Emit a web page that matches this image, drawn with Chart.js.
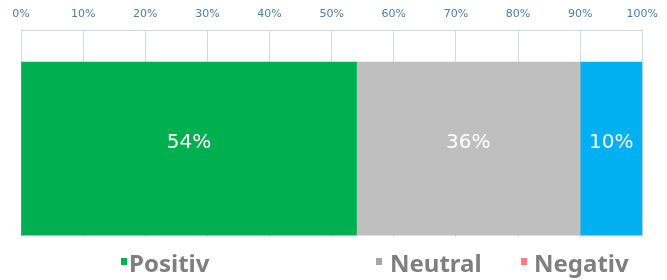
<!DOCTYPE html>
<html>
<head>
<meta charset="utf-8">
<script src="https://cdn.jsdelivr.net/npm/chart.js@4/dist/chart.umd.min.js"></script>
<style>
  html, body { margin: 0; padding: 0; background: #fff; }
  #wrap { width: 667px; height: 280px; position: relative; }
  #legend { position: absolute; left: 0; top: 249px; width: 667px; height: 31px; }
  #legend .item { position: absolute; top: 0; display: flex; align-items: flex-start; white-space: nowrap; }
  #legend .box { width: 6px; height: 7px; margin-top: 9px; }
  #legend .txt {
    font-family: "Liberation Sans Narrow", "Noto Sans", sans-serif;
    font-weight: bold; font-size: 24px; line-height: 28px; color: #7f7f7f;
  }
</style>
</head>
<body>
<div id="wrap"><canvas id="sentimentChart"></canvas><div id="legend"></div></div>
<script>
// Werte aus dem Bild
const categories = ['Positiv', 'Neutral', 'Negativ'];
const shares = [54, 36, 10];
const barColors = ['#00b050', '#bfbfbf', '#00b0f0'];
const legendColors = ['#00b050', '#a6a6a6', '#ff7c80'];
const xTicks = [0, 10, 20, 30, 40, 50, 60, 70, 80, 90, 100];

// Legendenlayout (wie im Original ungleichmäßig verteilt)
const legendLeft = [121, 376, 521];
const legendGap = [2, 8, 7];

// Prozentwerte in die Segmente schreiben
const segmentLabels = {
    id: 'segmentLabels',
    afterDatasetsDraw(chart) {
        const ctx = chart.ctx;
        ctx.save();
        ctx.font = '20px "DejaVu Sans"';
        ctx.fillStyle = '#ffffff';
        ctx.textAlign = 'center';
        ctx.textBaseline = 'alphabetic';
        chart.data.datasets.forEach((ds, i) => {
            const el = chart.getDatasetMeta(i).data[0];
            if (!el) return;
            const p = el.getCenterPoint();
            ctx.fillText(shares[i] + '%', p.x, p.y - 1);
        });
        ctx.restore();
    }
};

// HTML-Legende aus den Legendeneinträgen von Chart.js
const htmlLegend = {
    id: 'htmlLegend',
    afterUpdate(chart) {
        const container = document.getElementById('legend');
        container.innerHTML = '';
        const items = chart.options.plugins.legend.labels.generateLabels(chart);
        items.forEach((item, i) => {
            const div = document.createElement('div');
            div.className = 'item';
            div.style.left = legendLeft[i] + 'px';
            const box = document.createElement('span');
            box.className = 'box';
            box.style.background = item.fillStyle;
            box.style.marginRight = legendGap[i] + 'px';
            const txt = document.createElement('span');
            txt.className = 'txt';
            txt.textContent = item.text;
            div.appendChild(box);
            div.appendChild(txt);
            container.appendChild(div);
        });
    }
};

const ctx = document.getElementById('sentimentChart').getContext('2d');
new Chart(ctx, {
    type: 'bar',
    data: {
        datasets: categories.map((c, i) => ({
            label: c,
            data: [{ x: shares[i], y: 0.42 }],
            backgroundColor: barColors[i],
            borderWidth: 0,
            barThickness: 173
        }))
    },
    options: {
        indexAxis: 'y',
        responsive: true,
        maintainAspectRatio: false,
        animation: false,
        layout: { padding: { top: 0, left: 21, right: 3, bottom: 43 } },
        scales: {
            x: {
                position: 'top',
                stacked: true,
                min: 0,
                max: 100,
                afterBuildTicks: (axis) => { axis.ticks = xTicks.map(v => ({ value: v })); },
                afterFit: (axis) => { axis.height = 30; },
                ticks: {
                    callback: v => v + '%',
                    color: '#4a7eab',
                    font: { family: 'DejaVu Sans', size: 11 },
                    padding: 9,
                    maxRotation: 0
                },
                grid: { color: '#d3d9e3', drawTicks: false, lineWidth: 1 },
                border: { display: true, color: '#d3d9e3' }
            },
            y: {
                type: 'linear',
                stacked: true,
                min: 0,
                max: 1,
                display: false
            }
        },
        plugins: {
            tooltip: { enabled: false },
            legend: {
                display: false,
                labels: {
                    generateLabels: (chart) => categories.map((c, i) => ({
                        text: c,
                        fillStyle: legendColors[i],
                        strokeStyle: legendColors[i],
                        lineWidth: 0,
                        datasetIndex: i,
                        hidden: false
                    }))
                }
            }
        }
    },
    plugins: [segmentLabels, htmlLegend]
});
</script>
</body>
</html>
